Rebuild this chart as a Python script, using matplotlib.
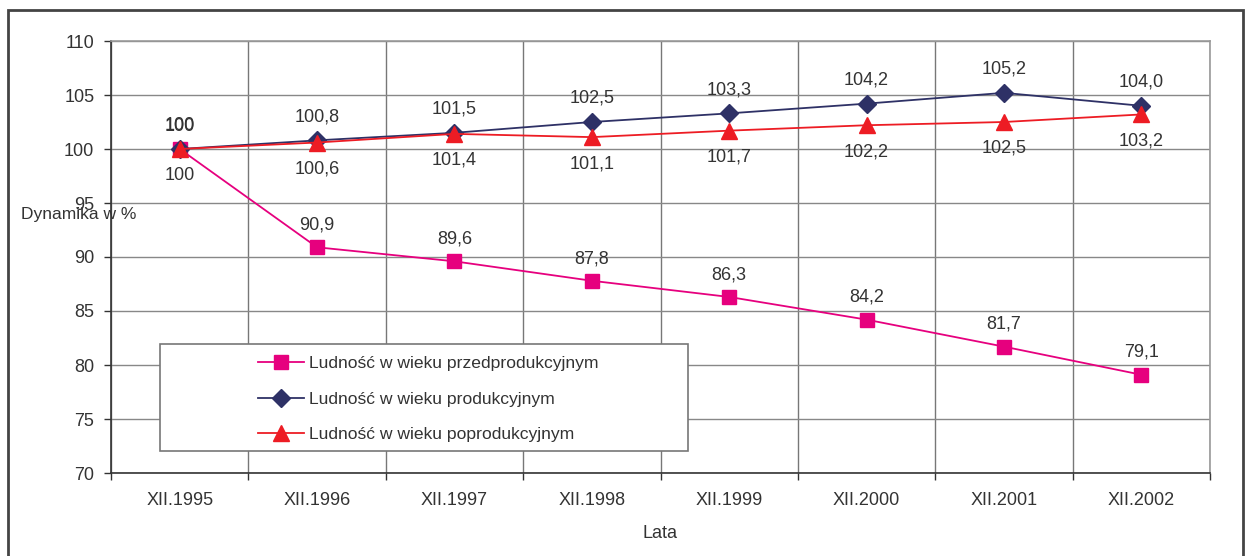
import matplotlib
matplotlib.use('Agg')
import matplotlib.pyplot as plt
from matplotlib.patches import Rectangle
import numpy as np

plt.rcParams['font.family'] = ['Liberation Sans', 'DejaVu Sans']

years = ['XII.1995', 'XII.1996', 'XII.1997', 'XII.1998', 'XII.1999', 'XII.2000', 'XII.2001', 'XII.2002']
przed = [100, 90.9, 89.6, 87.8, 86.3, 84.2, 81.7, 79.1]
prod = [100, 100.8, 101.5, 102.5, 103.3, 104.2, 105.2, 104.0]
poprod = [100, 100.6, 101.4, 101.1, 101.7, 102.2, 102.5, 103.2]
names = ['Ludność w wieku przedprodukcyjnym', 'Ludność w wieku produkcyjnym',
         'Ludność w wieku poprodukcyjnym']

TXT = '#333333'
PINK = '#E6007E'
NAVY = '#2E3166'
RED = '#ED1C24'
FS = 13

W, H = 1250, 556
fig = plt.figure(figsize=(W / 100, H / 100), dpi=100, facecolor='white')
ax = fig.add_axes([111 / W, (H - 473) / H, 1099 / W, 432 / H])

# outer frame
fig.patches.append(Rectangle((8 / W, -0.1), (1243 - 8) / W, 1.1 - 10 / H,
                             transform=fig.transFigure, fill=False,
                             edgecolor='#444444', linewidth=2))

x = np.arange(len(years))
l1, = ax.plot(x, przed, color=PINK, lw=1.3, marker='s', ms=9.5, zorder=4)
l2, = ax.plot(x, prod, color=NAVY, lw=1.3, marker='D', ms=9.5, zorder=4)
l3, = ax.plot(x, poprod, color=RED, lw=1.3, marker='^', ms=12, zorder=5)

def label(v):
    if v == 100:
        return '100'
    return f'{v:.1f}'.replace('.', ',')

for xi, v in zip(x, przed):
    ax.annotate(label(v), (xi, v), xytext=(0, 16), textcoords='offset points',
                ha='center', va='center', fontsize=FS, color=TXT)
for xi, v in zip(x, prod):
    ax.annotate(label(v), (xi, v), xytext=(0, 17), textcoords='offset points',
                ha='center', va='center', fontsize=FS, color=TXT)
for xi, v in zip(x, poprod):
    ax.annotate(label(v), (xi, v), xytext=(0, -19), textcoords='offset points',
                ha='center', va='center', fontsize=FS, color=TXT)

ax.set_xlim(-0.5, len(years) - 0.5)
ax.set_ylim(70, 110)
ax.set_yticks(np.arange(70, 111, 5))
ax.set_xticks(x)
ax.set_xticklabels(years)
ax.set_xticks(np.arange(-0.5, len(years), 1), minor=True)
ax.tick_params(axis='x', which='major', length=0, pad=14, labelsize=FS, labelcolor=TXT)
ax.tick_params(axis='x', which='minor', length=5, width=1, color='#333333', direction='out')
ax.tick_params(axis='y', length=5, width=1, color='#333333', pad=7, labelsize=FS, labelcolor=TXT)

ax.set_axisbelow(True)
ax.grid(axis='y', which='major', color='#888888', lw=1)
ax.grid(axis='x', which='minor', color='#777777', lw=1)
for s in ['left', 'bottom']:
    ax.spines[s].set_color('#333333')
    ax.spines[s].set_linewidth(1.2)
for s in ['top', 'right']:
    ax.spines[s].set_color('#999999')
    ax.spines[s].set_linewidth(1.2)

ax.set_xlabel('Lata', fontsize=FS, color=TXT, labelpad=11)
fig.text(21 / W, 1 - 214 / H, 'Dynamika w %', fontsize=12.5, color=TXT, ha='left', va='center')

# legend box
ax.add_patch(Rectangle(((160 - 111) / 1099, (473 - 451) / 432), (688 - 160) / 1099, (451 - 344) / 432,
                       transform=ax.transAxes, facecolor='white', edgecolor='#777777',
                       lw=1.2, zorder=3))
leg = ax.legend([l1, l2, l3], names, loc='upper left',
                bbox_to_anchor=((258 - 111) / 1099, (473 - 356) / 432),
                frameon=False, fontsize=12.6, labelspacing=1.15, handlelength=2.63,
                handletextpad=0.28, borderpad=0, borderaxespad=0)
for t in leg.get_texts():
    t.set_color(TXT)
leg.set_zorder(6)

fig.savefig('out.png', dpi=100, facecolor='white')
